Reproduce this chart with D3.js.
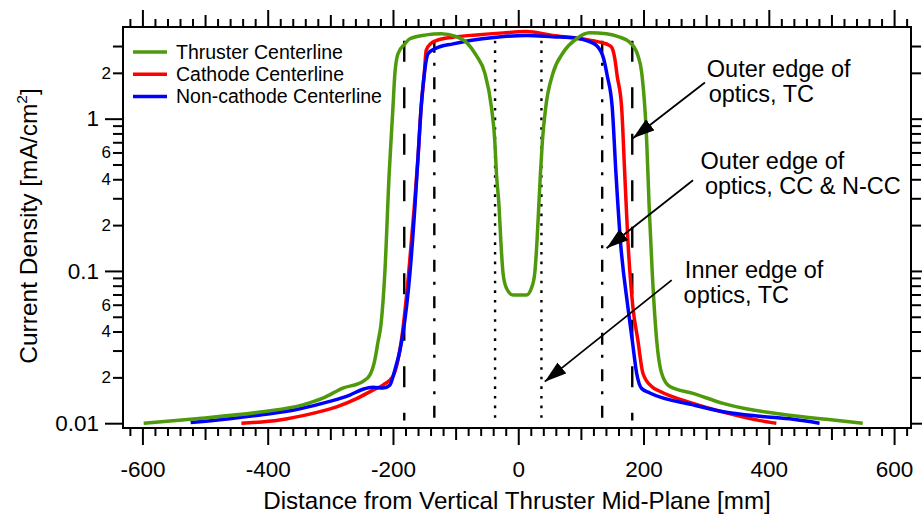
<!DOCTYPE html>
<html>
<head>
<meta charset="utf-8">
<script src="https://cdn.jsdelivr.net/npm/d3@7"></script>
<style>
  body { margin: 0; background: #fff; }
  svg { display: block; font-family: "Liberation Sans", Arial, Helvetica, sans-serif; }
</style>
</head>
<body>
<svg id="chart" width="922" height="514"></svg>
<script>
// ---- series: position [mm] and current density [mA/cm^2] ----
const seriesNames = ["Thruster Centerline", "Cathode Centerline", "Non-cathode Centerline"];
const seriesColors = ["#4f9a0c", "#ff0000", "#0000ff"];

const thrusterX = [-598, -514, -408, -344, -312, -280, -248, -237, -229, -224, -219, -213, -206, -200, -197, -192, -181, -173, -147, -123, -101, -83, -67, -53.5, -42.8, -37.5, -34.8, -30.6, -27.9, -24.2, -18.8, -8.3, 13.1, 21, 26.3, 30, 32.7, 35.4, 38.6, 43.9, 55.6, 72, 93, 114, 141, 162, 178, 191, 197, 205, 209, 214, 221, 229, 242, 279, 327, 375, 418, 492, 550];
const thrusterY = [0.0100, 0.0107, 0.0119, 0.0132, 0.0146, 0.0170, 0.0188, 0.0207, 0.026, 0.034, 0.045, 0.097, 0.44, 1.19, 1.97, 2.67, 3.10, 3.35, 3.55, 3.61, 3.48, 3.18, 2.60, 2.0, 1.19, 0.72, 0.435, 0.263, 0.159, 0.096, 0.077, 0.0694, 0.0694, 0.077, 0.096, 0.159, 0.263, 0.435, 0.72, 1.19, 2.0, 2.73, 3.35, 3.66, 3.61, 3.43, 3.18, 2.60, 2.02, 0.72, 0.263, 0.096, 0.035, 0.0212, 0.0174, 0.0157, 0.0135, 0.0122, 0.0115, 0.0106, 0.0100];

const cathodeX = [-442, -381, -328, -290, -258, -232, -216, -200, -192, -185, -175, -166, -160, -155, -150, -147, -139, -131, -104, -67, -24, 13, 55, 93, 109, 130, 146, 150, 154, 158, 165, 170, 175, 183, 191, 199, 213, 226, 279, 332, 386, 412];
const cathodeY = [0.0100, 0.0105, 0.0116, 0.0128, 0.0145, 0.0165, 0.0178, 0.0203, 0.026, 0.039, 0.096, 0.263, 0.56, 1.19, 1.97, 2.81, 3.13, 3.26, 3.43, 3.55, 3.66, 3.73, 3.52, 3.38, 3.31, 3.18, 3.02, 2.9, 2.5, 1.9, 1.19, 0.435, 0.159, 0.058, 0.035, 0.0213, 0.0174, 0.0162, 0.0135, 0.0117, 0.0104, 0.0100];

const noncathodeX = [-523, -461, -407, -354, -301, -269, -248, -232, -216, -205, -197, -189, -184, -173, -165, -160, -155, -150, -144, -133, -104, -77, -35, 13, 55, 93, 109, 125, 136, 142, 150, 156, 163, 175, 182, 189, 197, 210, 279, 332, 386, 439, 481];
const noncathodeY = [0.0101, 0.0107, 0.0114, 0.0123, 0.0139, 0.0153, 0.0167, 0.0172, 0.0170, 0.0178, 0.0224, 0.030, 0.039, 0.096, 0.263, 0.56, 1.19, 1.97, 2.67, 2.88, 3.10, 3.26, 3.43, 3.52, 3.45, 3.38, 3.26, 3.02, 2.5, 1.92, 1.19, 0.435, 0.159, 0.058, 0.035, 0.0213, 0.0169, 0.0158, 0.0132, 0.0118, 0.0111, 0.0106, 0.0100];

// ---- optics edge markers [mm] ----
const outerEdgeTC = [-182, 182];
const outerEdgeCC = [-134, 134];
const innerEdgeTC = [-37, 37];
const markerSpan = [0.0104, 3.25];

// ---- ticks ----
const xMajorTicks = [-600, -400, -200, 0, 200, 400, 600];
const xMajorLabels = ["-600", "-400", "-200", "0", "200", "400", "600"];
const xMidTicks = [-500, -300, -100, 100, 300, 500];
const xMinorTicks = d3.range(-620, 621, 20).filter(v => v % 100 !== 0);
const yMajorTicks = [0.01, 0.1, 1];
const yMajorLabels = ["0.01", "0.1", "1"];
const yMinorTicks = [0.02, 0.03, 0.04, 0.05, 0.06, 0.07, 0.08, 0.09, 0.2, 0.3, 0.4, 0.5, 0.6, 0.7, 0.8, 0.9, 2, 3];
const yMinorLabeled = [0.02, 0.04, 0.06, 0.2, 0.4, 0.6, 2];

// ---- layout ----
const svg = d3.select("#chart");
const L = 123, R = 911, T = 27, B = 428;
const x = d3.scaleLinear().domain([-631, 627]).range([L, R]);
const y = d3.scaleLog().domain([0.0093, 4.0]).range([B, T]);

const font = '"Liberation Sans", Arial, Helvetica, sans-serif';

// arrow head
svg.append("defs").append("marker")
  .attr("id", "head")
  .attr("markerUnits", "userSpaceOnUse")
  .attr("viewBox", "0 -7 22 14")
  .attr("refX", 22).attr("refY", 0)
  .attr("markerWidth", 22).attr("markerHeight", 14)
  .attr("orient", "auto")
  .append("path").attr("d", "M0,-7L22,0L0,7Z").attr("fill", "#000");

// ---- axes: ticks on all four sides, pointing outward ----
function styleAxis(g) {
  g.select(".domain").remove();
  g.selectAll("line").attr("stroke", "#000").attr("stroke-width", 2);
  g.selectAll("text").attr("fill", "#000").style("font-family", font);
}

function xAxes(gen, yPos, showLabels) {
  const g1 = svg.append("g").attr("transform", `translate(0,${yPos})`)
    .call(gen(x).tickValues(xMajorTicks).tickSize(17).tickPadding(16)
      .tickFormat((d, i) => showLabels ? xMajorLabels[i] : ""));
  g1.selectAll("text").style("font-size", "22.5px");
  styleAxis(g1);
  const g2 = svg.append("g").attr("transform", `translate(0,${yPos})`)
    .call(gen(x).tickValues(xMidTicks).tickSize(12).tickFormat(() => ""));
  styleAxis(g2);
  const g3 = svg.append("g").attr("transform", `translate(0,${yPos})`)
    .call(gen(x).tickValues(xMinorTicks).tickSize(8).tickFormat(() => ""));
  styleAxis(g3);
}
xAxes(d3.axisBottom, B, true);
xAxes(d3.axisTop, T, false);

function minorLabel(v) {
  if (!yMinorLabeled.includes(v)) return "";
  return String(Math.round(v / Math.pow(10, Math.floor(Math.log10(v) + 1e-9))));
}
function yAxes(gen, xPos, showLabels) {
  const g1 = svg.append("g").attr("transform", `translate(${xPos},0)`)
    .call(gen(y).tickValues(yMajorTicks).tickSize(18).tickPadding(6)
      .tickFormat((d, i) => showLabels ? yMajorLabels[i] : ""));
  g1.selectAll("text").style("font-size", "22.5px");
  styleAxis(g1);
  const g2 = svg.append("g").attr("transform", `translate(${xPos},0)`)
    .call(gen(y).tickValues(yMinorTicks).tickSize(10).tickPadding(2)
      .tickFormat(d => showLabels ? minorLabel(d) : ""));
  g2.selectAll("text").style("font-size", "17px");
  styleAxis(g2);
}
yAxes(d3.axisLeft, L, true);
yAxes(d3.axisRight, R, false);

// frame
svg.append("rect").attr("x", L).attr("y", T).attr("width", R - L).attr("height", B - T)
  .attr("fill", "none").attr("stroke", "#000").attr("stroke-width", 2);

// ---- optics edge markers ----
function vlines(vals, dash) {
  svg.append("g").selectAll("line").data(vals).join("line")
    .attr("x1", d => x(d)).attr("x2", d => x(d))
    .attr("y1", y(markerSpan[1])).attr("y2", y(markerSpan[0]))
    .attr("stroke", "#000").attr("stroke-width", 2.4)
    .attr("stroke-dasharray", dash);
}
vlines(outerEdgeTC, "21,25.5");
vlines(outerEdgeCC, "12,10,3,11.5");
vlines(innerEdgeTC, "2.6,7");

// ---- series ----
const line = d3.line().x(d => x(d[0])).y(d => y(d[1])).curve(d3.curveMonotoneX);
const series = [
  { name: seriesNames[1], color: seriesColors[1], xs: cathodeX, ys: cathodeY },
  { name: seriesNames[2], color: seriesColors[2], xs: noncathodeX, ys: noncathodeY },
  { name: seriesNames[0], color: seriesColors[0], xs: thrusterX, ys: thrusterY }
];
series.forEach(s => {
  svg.append("path")
    .datum(d3.zip(s.xs, s.ys))
    .attr("fill", "none")
    .attr("stroke", s.color)
    .attr("stroke-width", 3.5)
    .attr("stroke-linejoin", "round")
    .attr("d", line);
});

// ---- legend ----
const legend = svg.append("g").attr("transform", "translate(133,52)");
seriesNames.forEach((n, i) => {
  const row = legend.append("g").attr("transform", `translate(0,${i * 22.3})`);
  row.append("line").attr("x1", 0).attr("x2", 34).attr("y1", 0).attr("y2", 0)
    .attr("stroke", seriesColors[i]).attr("stroke-width", 3.5);
  row.append("text").attr("x", 43).attr("y", 6.7)
    .style("font-size", "19.5px").attr("fill", "#000").text(n);
});

// ---- annotations ----
const notes = [
  { lines: [["Outer edge of", 301], ["optics, TC", 304]], top: 1.87, from: [298, 1.73], to: [183, 0.743] },
  { lines: [["Outer edge of", 291], ["optics, CC & N-CC", 298]], top: 0.47, from: [279, 0.394], to: [141, 0.141] },
  { lines: [["Inner edge of", 266], ["optics, TC", 264]], top: 0.0893, from: [245, 0.087], to: [42.3, 0.01875] }
];
notes.forEach(n => {
  n.lines.forEach((ln, i) => {
    svg.append("text").attr("x", x(ln[1])).attr("y", y(n.top) + i * 25)
      .style("font-size", "23.5px").attr("fill", "#000").text(ln[0]);
  });
  svg.append("line")
    .attr("x1", x(n.from[0])).attr("y1", y(n.from[1]))
    .attr("x2", x(n.to[0])).attr("y2", y(n.to[1]))
    .attr("stroke", "#000").attr("stroke-width", 1.8)
    .attr("marker-end", "url(#head)");
});

// ---- axis titles ----
svg.append("text").attr("x", (L + R) / 2) .attr("y", 509)
  .attr("text-anchor", "middle").style("font-size", "24.2px").attr("fill", "#000")
  .text("Distance from Vertical Thruster Mid-Plane [mm]");

const yt = svg.append("text").attr("transform", "translate(37,226) rotate(-90)")
  .attr("text-anchor", "middle").style("font-size", "24.5px").attr("fill", "#000");
yt.append("tspan").text("Current Density [mA/cm");
yt.append("tspan").attr("dy", -10).style("font-size", "15.5px").text("2");
yt.append("tspan").attr("dy", 10).text("]");
</script>
</body>
</html>
